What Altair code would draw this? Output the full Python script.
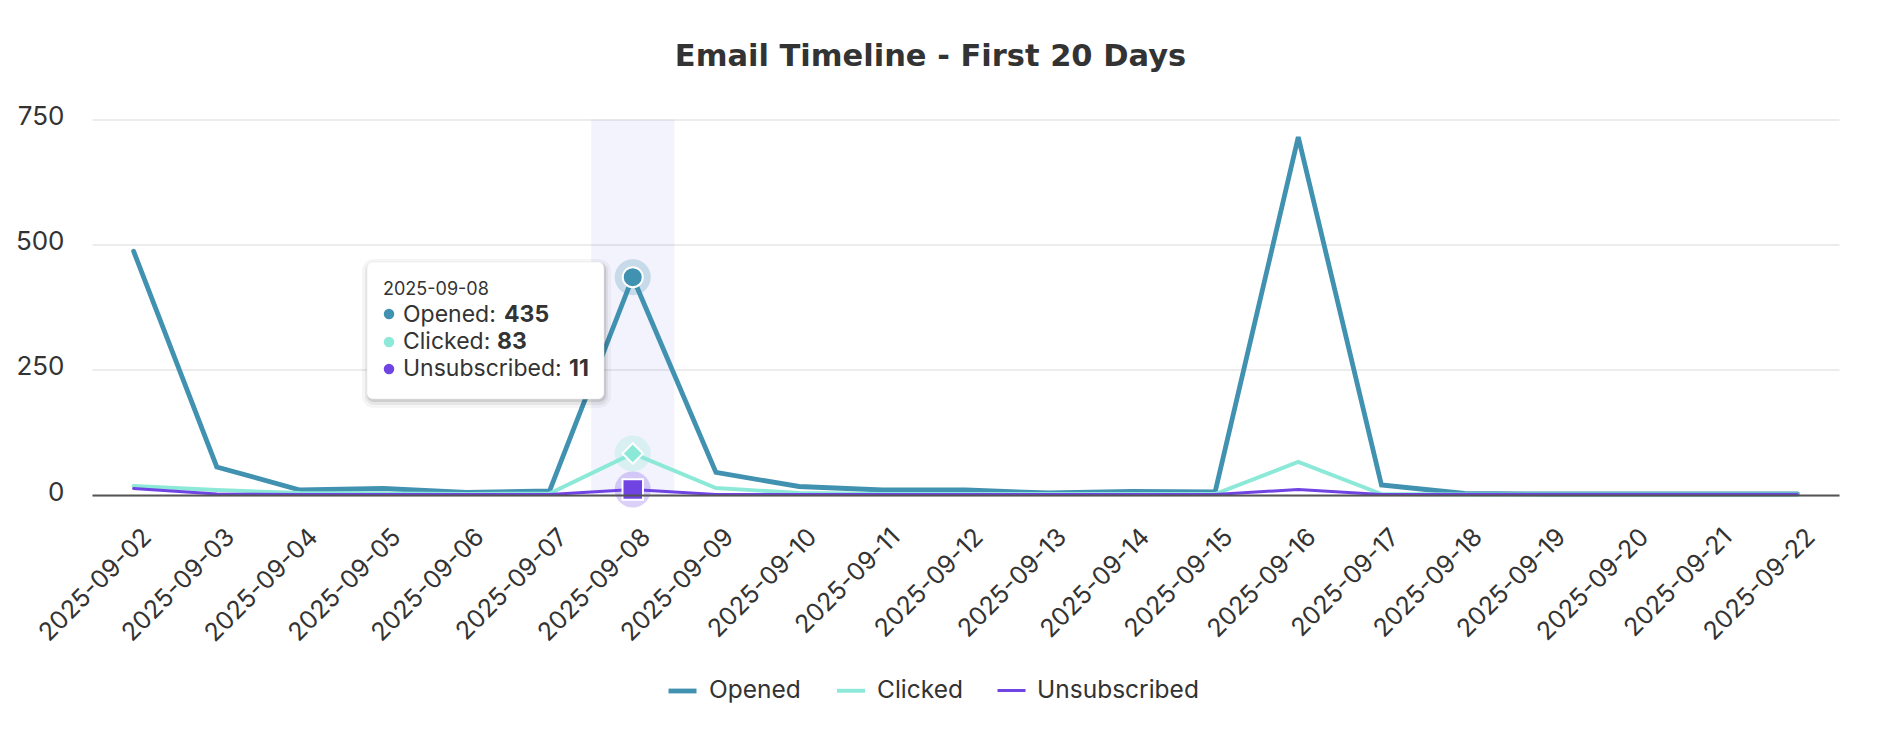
import altair as alt
import pandas as pd

dates = ["2025-09-02", "2025-09-03", "2025-09-04", "2025-09-05", "2025-09-06",
         "2025-09-07", "2025-09-08", "2025-09-09", "2025-09-10", "2025-09-11",
         "2025-09-12", "2025-09-13", "2025-09-14", "2025-09-15", "2025-09-16",
         "2025-09-17", "2025-09-18", "2025-09-19", "2025-09-20", "2025-09-21",
         "2025-09-22"]
opened = [487, 56, 10, 13, 5, 8, 435, 45, 17, 10, 10, 4, 7, 6, 715, 20, 3, 2, 2, 2, 2]
clicked = [18, 10, 4, 3, 2, 3, 83, 14, 4, 2, 2, 2, 2, 2, 66, 2, 1, 1, 1, 1, 1]
unsubscribed = [13, 2, 1, 1, 1, 1, 11, 1, 1, 1, 1, 1, 1, 1, 11, 1, 1, 1, 1, 1, 1]

series_names = ["Opened", "Clicked", "Unsubscribed"]
series_colors = ["#4191B0", "#8CE9D8", "#7043E3"]
series_widths = [4.8, 3, 3]
y_ticks = [0, 250, 500, 750]
hover_index = 6

FONT = "Inter"
TITLE_FONT = "DejaVu Sans"
TEXT = "#333333"
W, H = 1747, 375.5

rows = []
for name, vals in zip(series_names, [opened, clicked, unsubscribed]):
    for d, v in zip(dates, vals):
        rows.append({"date": d, "series": name, "value": v})
df = pd.DataFrame(rows)

hover_date = dates[hover_index]
hover_vals = [opened[hover_index], clicked[hover_index], unsubscribed[hover_index]]
hover_df = pd.DataFrame({"date": [hover_date] * 3, "series": series_names, "value": hover_vals})

xscale = alt.Scale(type="band", domain=dates, paddingInner=0, paddingOuter=0)
yscale = alt.Scale(domain=[0, 750], nice=False)

X = alt.X("date:N", scale=xscale, sort=dates, title=None,
          axis=alt.Axis(labelAngle=-45, labelAlign="right", labelBaseline="top",
                        labelPadding=29, labelOffset=5, ticks=False, grid=False,
                        domainColor="#555555", domainWidth=2, labelFont=FONT,
                        labelFontSize=25, labelColor=TEXT))
Y = alt.Y("value:Q", scale=yscale, title=None,
          axis=alt.Axis(values=y_ticks, domain=False, ticks=False, grid=True,
                        gridColor="#E6E6E6", gridWidth=1.5, labelPadding=28,
                        labelOffset=-3, labelFont=FONT, labelFontSize=26,
                        labelColor=TEXT))

base = alt.Chart(df)

band = alt.Chart(pd.DataFrame({"date": [hover_date], "top": [750], "bottom": [0]})).mark_rect(
    color="#5A5AE6", opacity=0.075
).encode(x=alt.X("date:N", scale=xscale, sort=dates), y=alt.Y("top:Q", scale=yscale), y2="bottom:Q")

lines = base.mark_line(strokeCap="round").encode(
    x=X, y=Y,
    color=alt.Color("series:N", sort=series_names,
                    scale=alt.Scale(domain=series_names, range=series_colors),
                    legend=alt.Legend(title=None, orient="none", direction="horizontal",
                                      legendX=574, legendY=555, labelFont=FONT,
                                      labelFontSize=24.5, labelColor=TEXT, labelLimit=500,
                                      symbolType="stroke", symbolSize=784,
                                      symbolStrokeWidth=4, columnPadding=28,
                                      labelOffset=10, padding=0)),
    strokeWidth=alt.StrokeWidth("series:N", scale=alt.Scale(domain=series_names, range=series_widths),
                                legend=None),
    order=alt.Order("date:N"),
)

hx = alt.X("date:N", scale=xscale, sort=dates)
hy = alt.Y("value:Q", scale=yscale)
halo_layers = []
marker_layers = []
shapes = ["circle", "diamond", "square"]
msizes = [400, 420, 420]
for i, name in enumerate(series_names):
    sub = alt.Chart(hover_df[hover_df.series == name])
    halo_layers.append(sub.mark_point(shape="circle", filled=True, size=1300,
                                      color=series_colors[i], opacity=0.25).encode(x=hx, y=hy))
    marker_layers.append(sub.mark_point(shape=shapes[i], filled=True, size=msizes[i],
                                        color=series_colors[i], stroke="white",
                                        strokeWidth=2, opacity=1).encode(x=hx, y=hy))

# tooltip
one = alt.Chart(pd.DataFrame({"date": [hover_date]}))
shadow = []
for dx, dy, grow, op in [(1, 3, 6, 0.04), (1, 3, 3, 0.06), (1, 2, 1, 0.10)]:
    shadow.append(one.mark_rect(color="#000000", opacity=op, cornerRadius=6 + grow).encode(
        x=alt.value(275 + dx - grow), x2=alt.value(512 + dx + grow),
        y=alt.value(142.5 + dy - grow), y2=alt.value(279.5 + dy + grow)))
box = one.mark_rect(color="white", cornerRadius=6, stroke="#E3E3E3", strokeWidth=0.5).encode(
    x=alt.value(275), x2=alt.value(512), y=alt.value(142.5), y2=alt.value(279.5))
date_txt = one.mark_text(align="left", baseline="alphabetic", font=FONT, fontSize=18,
                         color=TEXT).encode(x=alt.value(291), y=alt.value(175.5), text="date:N")
tip_layers = shadow + [box, date_txt]
row_y = [202, 229, 256.5]
dot_y = [194.5, 222.5, 249.5]
val_x = [412, 405, 477]
for i, name in enumerate(series_names):
    sub = alt.Chart(hover_df[hover_df.series == name])
    tip_layers.append(sub.mark_circle(size=110, color=series_colors[i], opacity=1).encode(
        x=alt.value(297), y=alt.value(dot_y[i])))
    tip_layers.append(sub.mark_text(align="left", baseline="alphabetic", font=FONT, fontSize=23,
                                    color=TEXT).encode(x=alt.value(311), y=alt.value(row_y[i]),
                                                       text=alt.Text("label:N")).transform_calculate(
        label="datum.series + ':'"))
    tip_layers.append(sub.mark_text(align="left", baseline="alphabetic", font=FONT, fontSize=23,
                                    fontWeight="bold", color=TEXT).encode(
        x=alt.value(val_x[i]), y=alt.value(row_y[i]), text=alt.Text("value:Q")))

chart = alt.layer(band, lines, *halo_layers, *marker_layers, *tip_layers).properties(
    width=W, height=H,
    background="white",
    title=alt.TitleParams("Email Timeline - First 20 Days", font=TITLE_FONT, fontSize=30.5,
                          fontWeight="bold", color=TEXT, anchor="middle", frame="group",
                          dx=-35, offset=7, baseline="alphabetic"),
    autosize=alt.AutoSizeParams(type="none"),
    padding={"left": 84, "top": 111.5, "right": 57, "bottom": 237},
).configure_view(strokeWidth=0, stroke="transparent")

chart.save("out.html", embed_options={"renderer": "svg", "actions": False})
